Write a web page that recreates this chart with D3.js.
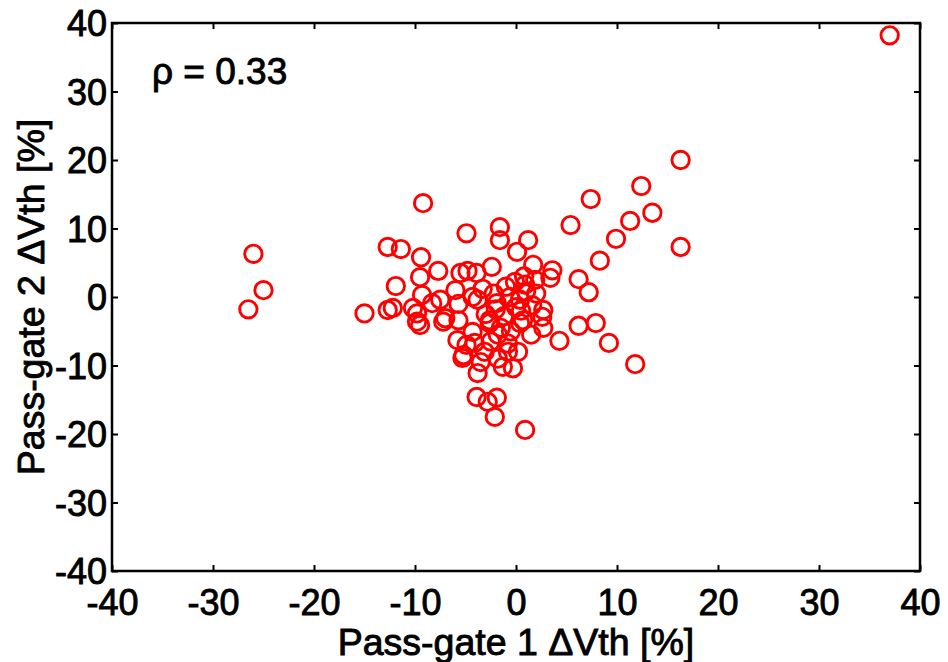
<!DOCTYPE html>
<html><head><meta charset="utf-8">
<script src="https://cdn.jsdelivr.net/npm/d3@7"></script>
<style>body{margin:0;background:#fff}svg{display:block}text{font-family:"Liberation Sans",Arial,sans-serif;fill:#000}</style>
</head><body>
<svg id="c" width="948" height="662"></svg>
<script>
const xTicks = [-40,-30,-20,-10,0,10,20,30,40];
const yTicks = [-40,-30,-20,-10,0,10,20,30,40];
const xLabel = "Pass-gate 1 \u0394Vth [%]";
const yLabel = "Pass-gate 2 \u0394Vth [%]";
const annotation = "\u03C1 = 0.33";
const pg1 = [37.0,16.3,12.4,13.5,11.3,9.9,8.3,7.4,5.4,16.3,6.2,7.2,6.2,7.9,9.2,11.8,0.9,4.3,-26.0,-25.0,-26.5,-15.0,-9.2,
 -12.7,-11.4,-9.4,-9.5,-7.7,-5.5,-4.8,-11.9,-9.3,-7.5,-8.3,-6.0,-10.2,-12.7,-12.2,-9.8,-9.8,-7.0,-5.7,-4.3,-4.9,-5.7,
 -1.6,-1.6,1.2,0.1,-2.4,1.7,3.6,3.4,-0.1,0.9,-3.9,-3.8,-1.9,-0.6,0.4,1.6,2.7,-2.6,0.7,2.6,-2.6,0.4,2.7,-1.8,-4.1,-3.1,-0.8,0.2,-0.3,-1.3,-3.8,-3.9,-1.9,-2.8,-2.1,-9.5,-7.2,-5.8,-4.9,-5.3,-4.3,-5.2,
 -1.0,-2.0,-3.0,0.0,-1.2,1.0,-0.5,-2.5,1.5,-1.5,0.8,-3.3,2.0,-0.8,1.9,-2.2,-3.5,-1.8,0.5];
const pg2 = [38.2,20.0,16.2,12.3,11.1,8.5,5.3,14.3,10.5,7.3,2.6,0.7,-4.2,-3.8,-6.7,-9.8,-19.4,-6.4,6.3,1.0,-1.8,-2.4,13.7,
 7.3,7.0,5.8,2.9,3.8,3.5,3.8,1.6,0.3,-0.4,-0.9,1.0,-1.6,-1.9,-1.6,-3.6,-2.4,-3.1,-3.4,0.0,9.3,-1.0,
 10.2,8.3,8.3,6.6,4.4,4.7,3.9,2.8,2.2,1.8,3.5,-0.4,-0.9,0.0,-0.4,-1.2,-1.9,-3.4,-3.4,-2.9,-3.8,-3.8,-4.5,-5.5,-6.7,-8.0,-8.0,-8.0,-10.4,-10.2,-11.1,-14.6,-14.7,-15.3,-17.5,-4.1,-3.6,-6.3,-7.0,-8.9,-5.1,-8.5,
 1.5,-1.8,-2.5,-1.5,-2.8,0.8,-5.0,-6.5,-5.5,-4.5,3.0,1.2,0.5,-6.8,2.5,0.5,-9.5,-9.0,-2.0];

const svg = d3.select("#c");
const L=112, R=920, T=23, B=571;
const x = d3.scaleLinear().domain([-40,40]).range([L,R]);
const y = d3.scaleLinear().domain([-40,40]).range([B,T]);

const data = pg1.map((v,i)=>({x:v,y:pg2[i]}));
svg.append("g").selectAll("circle").data(data).join("circle")
  .attr("cx",d=>x(d.x)).attr("cy",d=>y(d.y)).attr("r",8.7)
  .attr("fill","none").attr("stroke","#ff0000").attr("stroke-width",2.9);

const tl = 6, FS = 36, SW = 0.9;
const fmt = d=>String(d);
const ax = (g)=>g.call(s=>s.select(".domain").remove()).selectAll("line").attr("stroke","#000").attr("stroke-width",2);
svg.append("g").attr("transform",`translate(0,${B})`)
  .call(d3.axisBottom(x).tickValues(xTicks).tickSize(-tl).tickPadding(0).tickFormat(fmt))
  .call(ax).selectAll("text").attr("dy",0).attr("y",44);
svg.append("g").attr("transform",`translate(0,${T})`)
  .call(d3.axisTop(x).tickValues(xTicks).tickSize(-tl).tickFormat(""))
  .call(ax);
svg.append("g").attr("transform",`translate(${L},0)`)
  .call(d3.axisLeft(y).tickValues(yTicks).tickSize(-tl).tickPadding(0).tickFormat(fmt))
  .call(ax).selectAll("text").attr("x",-5).attr("dy","0.36em");
svg.append("g").attr("transform",`translate(${R},0)`)
  .call(d3.axisRight(y).tickValues(yTicks).tickSize(-tl).tickFormat(""))
  .call(ax);
svg.selectAll(".tick text").attr("font-size",FS)
  .style("font-family","'Liberation Sans',Arial,sans-serif")
  .attr("fill","#000").attr("stroke","#000").attr("stroke-width",SW);

svg.append("rect").attr("x",L).attr("y",T).attr("width",R-L).attr("height",B-T)
  .attr("fill","none").attr("stroke","#000").attr("stroke-width",2.5);

svg.append("text").attr("x",(L+R)/2).attr("y",655).attr("text-anchor","middle").attr("font-size",37.5)
  .attr("stroke","#000").attr("stroke-width",SW).text(xLabel);
svg.append("text").attr("transform",`translate(44,${(T+B)/2}) rotate(-90)`).attr("text-anchor","middle").attr("font-size",37.5)
  .attr("stroke","#000").attr("stroke-width",SW).text(yLabel);
svg.append("text").attr("x",152).attr("y",84).attr("font-size",37)
  .attr("stroke","#000").attr("stroke-width",SW).text(annotation);
</script>
</body></html>
